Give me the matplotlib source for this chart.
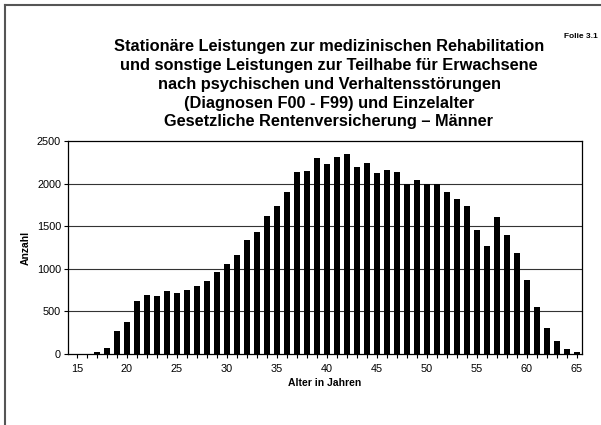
import matplotlib
matplotlib.use("Agg")
import matplotlib.pyplot as plt
from matplotlib.lines import Line2D
from matplotlib.ticker import MultipleLocator

plt.rcParams['font.family'] = ['Liberation Sans', 'DejaVu Sans']

ages = list(range(15, 66))
counts = [0, 0, 20, 75, 265, 370, 623, 697, 678, 745, 713, 749, 800, 851, 957,
          1056, 1162, 1336, 1434, 1615, 1738, 1903, 2132, 2147, 2305, 2225,
          2316, 2348, 2198, 2245, 2123, 2162, 2130, 1992, 2040, 1992, 2000,
          1901, 1822, 1735, 1455, 1273, 1613, 1395, 1182, 874, 553, 300, 154,
          59, 20]
yticks = [0, 500, 1000, 1500, 2000, 2500]
xticks = [15, 20, 25, 30, 35, 40, 45, 50, 55, 60, 65]

title = ("Stationäre Leistungen zur medizinischen Rehabilitation\n"
         "und sonstige Leistungen zur Teilhabe für Erwachsene\n"
         "nach psychischen und Verhaltensstörungen\n"
         "(Diagnosen F00 - F99) und Einzelalter\n"
         "Gesetzliche Rentenversicherung – Männer")

fig = plt.figure(figsize=(6.01, 4.25), dpi=100)
ax = fig.add_axes([0.1131, 0.1671, 0.8552, 0.5012])

ax.bar(ages, counts, width=0.6, color='black', zorder=3)
for y in yticks[1:-1]:
    ax.axhline(y, color='#333333', lw=0.8, zorder=1)

ax.set_xlim(14.1, 65.5)
ax.set_ylim(0, 2500)
ax.set_xticks(xticks)
ax.xaxis.set_minor_locator(MultipleLocator(1))
ax.set_yticks(yticks)
ax.tick_params(axis='both', labelsize=7.8, length=3, width=0.8, direction='out', pad=2)
ax.tick_params(axis='x', which='minor', length=3, width=0.8, direction='out')
ax.tick_params(axis='x', pad=4)
for s in ax.spines.values():
    s.set_linewidth(0.9)
    s.set_color('black')

ax.set_ylabel('Anzahl', fontsize=7.5, fontweight='bold', labelpad=4)
ax.set_xlabel('Alter in Jahren', fontsize=7.5, fontweight='bold', labelpad=3)

fig.text(329/601, 1 - 39/425, title, ha='center', va='top', fontsize=11.8,
         fontweight='bold', linespacing=1.32)
fig.text(598/601, 1 - 37/425, 'Folie 3.1', ha='right', va='center',
         fontsize=6, fontweight='bold')

# page frame (top and left edges)
fig.add_artist(Line2D([5/601, 1.0], [1 - 5/425, 1 - 5/425], transform=fig.transFigure,
                      color='#555555', lw=1.5))
fig.add_artist(Line2D([5/601, 5/601], [0, 1 - 5/425], transform=fig.transFigure,
                      color='#555555', lw=1.5))

fig.savefig('out.png', dpi=100)
